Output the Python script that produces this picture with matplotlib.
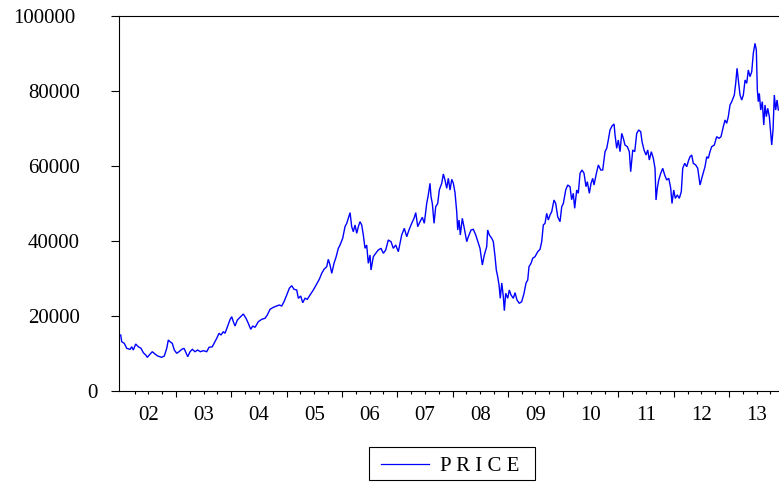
import matplotlib
matplotlib.use("Agg")
import matplotlib.pyplot as plt
from matplotlib.lines import Line2D
from matplotlib.patches import Rectangle
from matplotlib.ticker import FixedLocator, NullFormatter

# Daily closing price, sampled along the series (decimal year, price)
dates = [
    2002.000, 2002.018, 2002.065, 2002.109, 2002.168, 2002.199, 2002.228, 2002.271,
    2002.318, 2002.367, 2002.409, 2002.452, 2002.481, 2002.517, 2002.571, 2002.620,
    2002.669, 2002.741, 2002.788, 2002.832, 2002.861, 2002.892, 2002.933, 2002.969,
    2003.013, 2003.054, 2003.103, 2003.145, 2003.181, 2003.212, 2003.253, 2003.295,
    2003.344, 2003.392, 2003.439, 2003.494, 2003.555, 2003.597, 2003.656, 2003.705,
    2003.736, 2003.778, 2003.814, 2003.855, 2003.886, 2003.935, 2003.976, 2004.007,
    2004.036, 2004.067, 2004.109, 2004.157, 2004.217, 2004.266, 2004.307, 2004.351,
    2004.387, 2004.429, 2004.488, 2004.550, 2004.609, 2004.651, 2004.700, 2004.760,
    2004.821, 2004.868, 2004.911, 2004.953, 2005.002, 2005.049, 2005.092, 2005.134,
    2005.183, 2005.212, 2005.255, 2005.291, 2005.333, 2005.374, 2005.423, 2005.483,
    2005.544, 2005.591, 2005.635, 2005.676, 2005.725, 2005.754, 2005.785, 2005.816,
    2005.857, 2005.893, 2005.935, 2005.966, 2006.014, 2006.056, 2006.087, 2006.116,
    2006.147, 2006.177, 2006.206, 2006.237, 2006.268, 2006.297, 2006.327, 2006.358,
    2006.387, 2006.418, 2006.448, 2006.477, 2006.508, 2006.526, 2006.568, 2006.611,
    2006.658, 2006.707, 2006.749, 2006.792, 2006.839, 2006.888, 2006.929, 2006.973,
    2007.020, 2007.051, 2007.081, 2007.128, 2007.172, 2007.213, 2007.262, 2007.304,
    2007.335, 2007.371, 2007.412, 2007.454, 2007.490, 2007.533, 2007.562, 2007.593,
    2007.611, 2007.635, 2007.666, 2007.696, 2007.732, 2007.761, 2007.805, 2007.834,
    2007.864, 2007.895, 2007.924, 2007.955, 2007.986, 2008.015, 2008.045, 2008.076,
    2008.094, 2008.118, 2008.141, 2008.177, 2008.213, 2008.257, 2008.286, 2008.335,
    2008.376, 2008.420, 2008.467, 2008.497, 2008.539, 2008.575, 2008.618, 2008.636,
    2008.666, 2008.709, 2008.738, 2008.769, 2008.792, 2008.817, 2008.841, 2008.864,
    2008.890, 2008.919, 2008.937, 2008.962, 2008.998, 2009.027, 2009.058, 2009.100,
    2009.130, 2009.166, 2009.208, 2009.251, 2009.293, 2009.329, 2009.360, 2009.383,
    2009.420, 2009.450, 2009.492, 2009.541, 2009.582, 2009.613, 2009.642, 2009.673,
    2009.703, 2009.732, 2009.763, 2009.794, 2009.835, 2009.866, 2009.902, 2009.944,
    2009.975, 2010.004, 2010.047, 2010.083, 2010.125, 2010.154, 2010.184, 2010.209,
    2010.246, 2010.275, 2010.306, 2010.342, 2010.378, 2010.414, 2010.438, 2010.474,
    2010.505, 2010.535, 2010.559, 2010.595, 2010.637, 2010.680, 2010.716, 2010.758,
    2010.789, 2010.817, 2010.848, 2010.884, 2010.921, 2010.939, 2010.969, 2010.998,
    2011.029, 2011.060, 2011.089, 2011.119, 2011.161, 2011.197, 2011.222, 2011.259,
    2011.295, 2011.331, 2011.367, 2011.403, 2011.427, 2011.463, 2011.499, 2011.530,
    2011.559, 2011.595, 2011.631, 2011.662, 2011.680, 2011.703, 2011.729, 2011.765,
    2011.801, 2011.837, 2011.873, 2011.910, 2011.946, 2011.969, 2012.000, 2012.029,
    2012.065, 2012.101, 2012.137, 2012.163, 2012.199, 2012.235, 2012.271, 2012.295,
    2012.325, 2012.354, 2012.398, 2012.434, 2012.476, 2012.512, 2012.566, 2012.597,
    2012.626, 2012.656, 2012.687, 2012.734, 2012.777, 2012.819, 2012.855, 2012.897,
    2012.928, 2012.958, 2012.987, 2013.018, 2013.049, 2013.096, 2013.121, 2013.145,
    2013.168, 2013.199, 2013.230, 2013.259, 2013.290, 2013.320, 2013.349, 2013.380,
    2013.411, 2013.439, 2013.470, 2013.494, 2013.512, 2013.530, 2013.548, 2013.573,
    2013.602, 2013.628, 2013.651, 2013.675, 2013.700, 2013.729, 2013.754, 2013.772,
    2013.796, 2013.819, 2013.844, 2013.868, 2013.892,
]

prices = [
    14930, 13150, 12700, 11380, 11100, 11800, 10930, 12530,
    11800, 11380, 10200, 9600, 8980, 9600, 10480, 9870,
    9330, 8980, 9330, 11380, 13600, 13150, 12700, 10930,
    10050, 10480, 11100, 11380, 10200, 9150, 10480, 11100,
    10480, 10930, 10480, 10750, 10480, 11650, 11800, 13150,
    14050, 15390, 14930, 15820, 15390, 17330, 19000, 19820,
    18500, 17330, 18930, 19650, 20530, 19380, 18050, 16450,
    17330, 16980, 18480, 19120, 19380, 20270, 21780, 22320,
    22670, 22930, 22670, 23820, 25600, 27390, 28080, 27120,
    26930, 24720, 25330, 23550, 24720, 24450, 25600, 26930,
    28530, 29780, 31380, 32450, 33150, 35120, 33600, 31380,
    34050, 35650, 38050, 38930, 40720, 43820, 44700, 46050,
    47560, 43820, 42480, 44270, 42050, 43820, 45150, 44270,
    41600, 38050, 38930, 34050, 36270, 32270, 35820, 36720,
    37600, 38050, 36720, 37600, 40270, 39820, 38050, 38930,
    37150, 39380, 41600, 43380, 41150, 42930, 44720, 46050,
    47560, 43820, 45150, 46320, 44720, 50000, 52270, 55380,
    51820, 50000, 44720, 49150, 50000, 53600, 55380, 57870,
    56270, 54050, 56720, 53600, 56450, 55380, 52900, 47800,
    42930, 45600, 41600, 46050, 43380, 39820, 41150, 42930,
    43120, 41600, 39380, 38050, 33600, 36270, 38480, 42930,
    41600, 40720, 39820, 35820, 32270, 30480, 28270, 24720,
    28800, 25150, 21420, 26050, 24720, 26930, 25600, 24720,
    26220, 24270, 23380, 23820, 26050, 28800, 29600, 33150,
    34050, 35380, 35820, 37150, 37780, 39820, 44270, 44720,
    47380, 45600, 46930, 47820, 50930, 50000, 46480, 45150,
    49150, 50000, 53600, 54930, 54480, 51000, 52720, 48720,
    53600, 52720, 58050, 58930, 58050, 54480, 55820, 52720,
    55380, 56720, 54930, 57600, 60270, 58930, 58930, 63820,
    64720, 66930, 69600, 70670, 71200, 68270, 64720, 66930,
    63820, 68700, 67380, 65600, 65150, 63820, 58480, 64270,
    63820, 68700, 69600, 69150, 66480, 64270, 62930, 64270,
    61600, 63820, 62050, 59380, 50930, 54050, 56270, 58050,
    59380, 57600, 56270, 56720, 54050, 50000, 53600, 51370,
    52270, 51370, 53150, 59380, 60720, 59820, 61600, 62480,
    62930, 60720, 60270, 59380, 54930, 57000, 59820, 62480,
    62050, 63820, 65150, 65600, 67820, 67380, 67820, 70480,
    72270, 71380, 73150, 76270, 77150, 78930, 82050, 86050,
    82930, 78930, 77600, 78930, 82930, 82050, 85600, 83820,
    85150, 90030, 92700, 90930, 80270, 77150, 79380, 74930,
    77150, 70930, 76270, 73150, 75380, 73150, 68700, 65600,
    69600, 78930, 74930, 77600, 74930,
]

years = list(range(2002, 2014))
year_labels = [f"{y % 100:02d}" for y in years]
y_ticks = [0, 20000, 40000, 60000, 80000, 100000]
series_name = "PRICE"

FONT = "Liberation Serif"
FS = 15
BLUE = "#0000FF"

W, H = 779, 482
fig = plt.figure(figsize=(W / 100, H / 100), dpi=100)
fig.patch.set_facecolor("white")

# plot area in pixels: left 119, right 781 (just past the edge), top 16, bottom 391
ax = fig.add_axes([119 / W, 1 - 391 / H, (781 - 119) / W, (391 - 16) / H])
line, = ax.plot(dates, prices, color=BLUE, lw=1.0, solid_joinstyle="miter")

ax.set_xlim(2001.969, 2013.940)
ax.set_ylim(0, 100000)

for s in ax.spines.values():
    s.set_linewidth(0.8)
    s.set_color("black")

# x axis: long ticks at year boundaries, short ticks at quarters
ax.xaxis.set_major_locator(FixedLocator(years[1:]))
ax.xaxis.set_minor_locator(FixedLocator(
    [y + q / 4 for y in years for q in (1, 2, 3)]))
ax.xaxis.set_major_formatter(NullFormatter())
ax.tick_params(axis="x", which="major", direction="out", length=4.3, width=0.8)
ax.tick_params(axis="x", which="minor", direction="out", length=2.4, width=0.8)

# year labels centred inside each year
for y, lab in zip(years, year_labels):
    ax.text(y + 0.5, -15 / 375, lab, transform=ax.get_xaxis_transform(),
            ha="center", va="top", fontsize=FS, family=FONT, color="black")

# y axis
ax.yaxis.set_major_locator(FixedLocator(y_ticks))
ax.yaxis.set_major_formatter(NullFormatter())
ax.tick_params(axis="y", which="major", direction="out", length=5.8, width=0.8)
right_edges = {0: 98, 100000: 75}
for v in y_ticks:
    xr = right_edges.get(v, 80)
    ax.text((xr - 119) / 662, v, f"{v}", transform=ax.get_yaxis_transform(),
            ha="right", va="center_baseline", fontsize=FS, family=FONT,
            color="black")

# legend box below the plot
fig.patches.append(Rectangle((369 / W, 1 - 480 / H), 166 / W, 33 / H,
                             transform=fig.transFigure, fill=False,
                             edgecolor="black", linewidth=0.8))
fig.lines.append(Line2D([381 / W, 429 / W], [1 - 464 / H, 1 - 464 / H],
                        transform=fig.transFigure, color=line.get_color(),
                        lw=0.9))
fig.text(440 / W, 1 - 464 / H, " ".join(series_name), ha="left",
         va="center_baseline", fontsize=FS, family=FONT, color="black")

fig.savefig("out.png", dpi=100, facecolor="white")
